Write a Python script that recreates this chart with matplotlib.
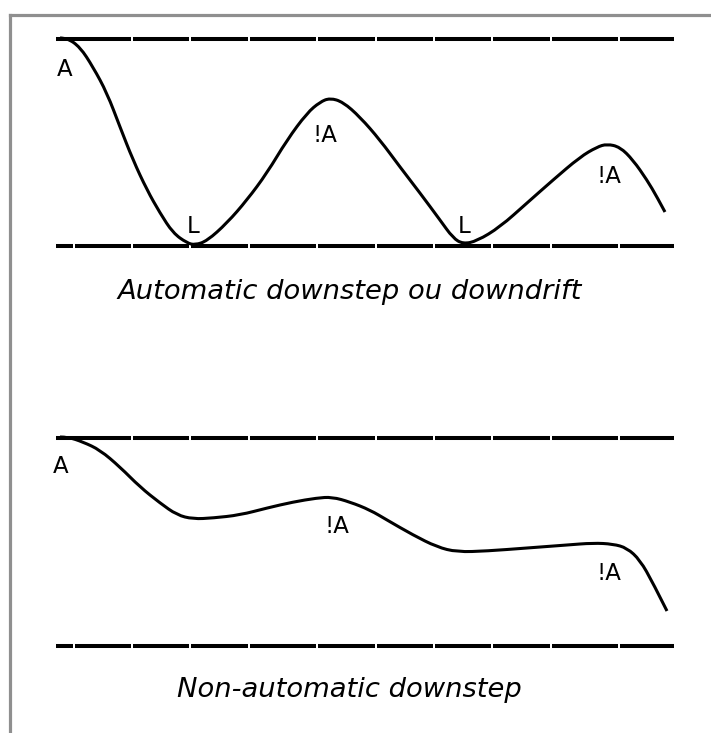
import matplotlib.pyplot as plt
from matplotlib.path import Path
from matplotlib.patches import PathPatch

# picture is 711 x 733 px, everything below is in pixel coordinates
W, H = 711, 733

# reference lines (y) and where the dashes break (x)
top_lines_y = [39, 246]
bot_lines_y = [438, 646]
line_start, line_end = 56, 674
breaks_upper = [132, 190, 249, 317, 376, 434, 492, 551, 619]
breaks_lower = [74, 132, 190, 249, 317, 376, 434, 492, 551, 619]

# pitch curve, automatic downstep
auto_x = [60, 67, 80, 93, 107, 120, 133, 147, 160, 173, 187, 195, 207, 227, 247, 267,
          287, 307, 320, 330, 343, 360, 380, 400, 420, 440, 453, 463, 477, 500, 527,
          553, 580, 597, 607, 620, 633, 647, 657, 665]
auto_y = [38, 38, 47, 67, 93, 127, 160, 190, 213, 233, 243, 245, 241, 223, 200, 173,
          140, 113, 102, 98, 102, 117, 140, 167, 193, 220, 238, 244, 241, 227, 203,
          180, 157, 147, 144, 147, 160, 180, 197, 212]

# pitch curve, non-automatic downstep
non_x = [60, 68, 83, 100, 120, 140, 160, 177, 193, 213, 240, 267, 293, 317, 332, 350,
         370, 387, 413, 437, 457, 487, 527, 567, 593, 613, 627, 640, 653, 667]
non_y = [437, 437, 442, 450, 467, 487, 503, 515, 519, 518, 515, 508, 502, 498, 497,
         502, 510, 520, 535, 547, 552, 551, 548, 545, 543, 544, 548, 560, 583, 611]

# tone labels: (text, x, baseline y)
labels = [("A", 57, 76), ("L", 187, 233), ("!A", 313, 142), ("L", 458, 233),
          ("!A", 597, 183),
          ("A", 53, 473), ("!A", 324, 533), ("!A", 597, 580)]
captions = [("Automatic downstep ou downdrift", 350, 299),
            ("Non-automatic downstep", 349, 697)]


def dashed(ax, y, breaks):
    xs0 = [line_start] + [b + 1 for b in breaks]
    xs1 = [b - 1 for b in breaks] + [line_end]
    ax.hlines([y] * len(xs0), xs0, xs1, colors='black', linewidth=2.9)


def smooth_curve(ax, xs, ys):
    # quadratic bezier pieces: read points act as controls, midpoints as knots
    pts = list(zip(xs, ys))
    verts = [pts[0]]
    codes = [Path.MOVETO]
    for i in range(1, len(pts) - 1):
        mid = ((pts[i][0] + pts[i + 1][0]) / 2, (pts[i][1] + pts[i + 1][1]) / 2)
        if i == len(pts) - 2:
            mid = pts[-1]
        verts += [pts[i], mid]
        codes += [Path.CURVE3, Path.CURVE3]
    ax.add_patch(PathPatch(Path(verts, codes), fill=False, edgecolor='black',
                           linewidth=2.2, capstyle='butt'))


fig = plt.figure(figsize=(W / 100, H / 100), dpi=100)
ax = fig.add_axes([0, 0, 1, 1])
ax.set_xlim(0, W)
ax.set_ylim(H, 0)
ax.axis('off')

# grey frame, only top and left edges are visible
ax.plot([10, W + 5], [15, 15], color='#8f8f8f', linewidth=2.3)
ax.plot([10, 10], [15, H + 5], color='#8f8f8f', linewidth=2.3)

dashed(ax, top_lines_y[0], breaks_upper)
dashed(ax, top_lines_y[1], breaks_lower)
dashed(ax, bot_lines_y[0], breaks_upper)
dashed(ax, bot_lines_y[1], breaks_lower)

smooth_curve(ax, auto_x, auto_y)
smooth_curve(ax, non_x, non_y)

for txt, x, y in labels:
    ax.text(x, y, txt, fontsize=16.5, ha='left', va='baseline', family='DejaVu Sans')
for txt, x, y in captions:
    ax.text(x, y, txt, fontsize=19.7, style='italic', ha='center', va='baseline',
            family='DejaVu Sans')

fig.savefig('out.png', dpi=100)
